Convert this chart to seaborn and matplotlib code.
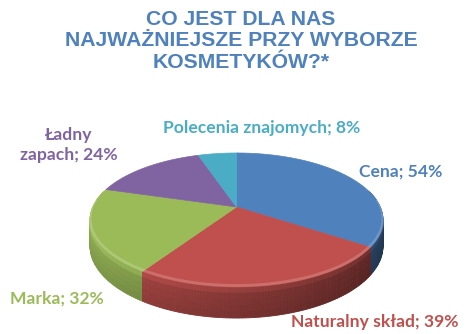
import numpy as np
import matplotlib
matplotlib.use("Agg")
import matplotlib.pyplot as plt
import seaborn as sns
from matplotlib.colors import to_rgb

# ---- data ----
categories = ["Cena", "Naturalny skład", "Marka", "Ładny\nzapach", "Polecenia znajomych"]
values = [54, 39, 32, 24, 8]
title_text = "CO JEST DLA NAS\nNAJWAŻNIEJSZE PRZY WYBORZE\nKOSMETYKÓW?*"

# ---- style ----
colors = ["#4F81BD", "#C0504D", "#9BBB59", "#8064A2", "#4BACC6"]
label_pos = [(401, 172), (375, 322), (57, 299), (69, 145), (262, 128)]

sns.set_theme(style="white")
plt.rcParams['font.family'] = ['Lato', 'DejaVu Sans']

fig = plt.figure(figsize=(4.69, 3.34), dpi=100)
ax = fig.add_axes([0, 0, 1, 1])
ax.set_xlim(0, 469)
ax.set_ylim(334, 0)
ax.axis('off')

# perspective pie geometry (layout)
X0, Y0 = 236.5, 207.0
A, B, K, D = 64.5, 143.7, 0.194, 25.0


def proj(theta, z=0.0):
    u = np.cos(theta)
    v = np.sin(theta)
    s = 1.0 / (1.0 + K * v)
    return X0 + B * u * s, Y0 - A * v * s + D * z * s


vals = np.array(values, dtype=float)
frac = vals / vals.sum()
bounds = np.deg2rad(90 - 360 * np.concatenate([[0], np.cumsum(frac)]))

# side strips
strips = []
for i in range(len(vals)):
    t0, t1 = bounds[i], bounds[i + 1]
    n = max(2, int(abs(np.rad2deg(t0 - t1)) / 1.0))
    ts = np.linspace(t0, t1, n + 1)
    for a, b in zip(ts[:-1], ts[1:]):
        mid = 0.5 * (a + b)
        if np.sin(mid) > 0.25:
            continue
        strips.append((np.sin(mid), a, b, mid, i))
strips.sort(key=lambda s: -s[0])

nb = 5
for v, a, b, mid, i in strips:
    base = np.array(to_rgb(colors[i]))
    shade = 0.70 - 0.24 * np.cos(mid)
    for k in range(nb):
        z0, z1 = k / nb, (k + 1) / nb
        xa0, ya0 = proj(a, z0)
        xb0, yb0 = proj(b, z0)
        xa1, ya1 = proj(a, z1)
        xb1, yb1 = proj(b, z1)
        f = shade * (1.0 - 0.10 * (k / (nb - 1)))
        if k == 0:
            f = min(1.0, shade + 0.08)
        c = np.clip(base * f, 0, 1)
        ax.fill([xa0, xb0, xb1, xa1], [ya0, yb0, yb1, ya1], color=c,
                lw=0.6, ec=c, zorder=2)

# top surface
for i in range(len(vals)):
    ts = np.linspace(bounds[i], bounds[i + 1], 200)
    xs, ys = proj(ts)
    ax.fill(np.concatenate([[X0], xs]), np.concatenate([[Y0], ys]),
            color=colors[i], lw=0.5, ec=colors[i], zorder=3)
    m = np.sin(ts) < 0.1
    if m.any():
        ax.plot(xs[m], ys[m] - 1.5, color="white", alpha=0.18, lw=2.0,
                zorder=4, solid_capstyle="butt")

# title
ax.text(241, 41, title_text, ha="center", va="center", fontsize=15.2,
        fontweight="bold", color="#4F81BD", family=["Liberation Sans", "DejaVu Sans"],
        linespacing=1.18)

# labels
for cat, val, col, (lx, ly) in zip(categories, values, colors, label_pos):
    ax.text(lx, ly, f"{cat}; {val}%", ha="center", va="center", fontsize=12.6,
            fontweight="bold", color=col, linespacing=1.25)

fig.savefig("out.png", dpi=100)
